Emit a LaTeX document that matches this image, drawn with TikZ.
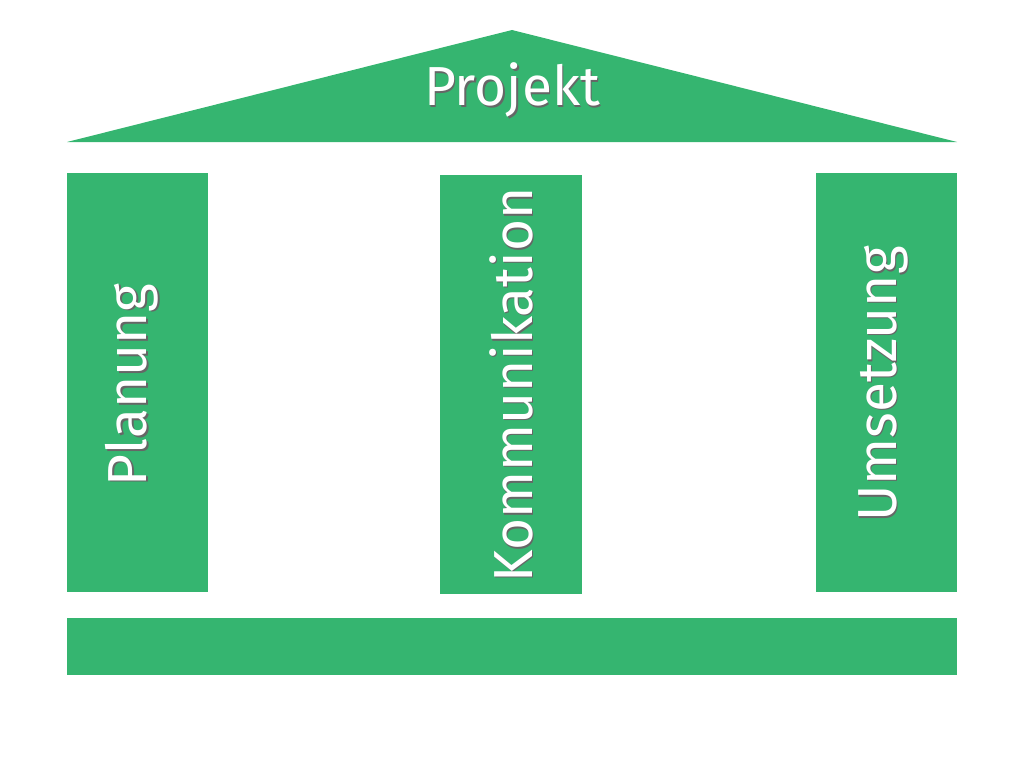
\documentclass[tikz,border=0pt]{standalone}
\usepackage{fontspec}
\setmainfont{Fira Sans}
\definecolor{tgreen}{HTML}{35B570}
\begin{document}
\begin{tikzpicture}[x=1pt,y=-1pt,
  part/.style={fill=tgreen,draw=none},
  lbl/.style={text=white,font=\fontsize{55}{66}\selectfont,inner sep=0pt},
  shd/.style={text=black!60,font=\fontsize{55}{66}\selectfont,inner sep=0pt}]
\useasboundingbox (0,0) rectangle (1024,768);
\fill[part] (67,142) -- (512,30) -- (957,142) -- cycle;
\fill[part] (67,173) rectangle (208,592);
\fill[part] (440,175) rectangle (582,594);
\fill[part] (816,173) rectangle (957,592);
\fill[part] (67,618) rectangle (957,675);
\node[shd] at (513.5,91.5) {Projekt};
\node[lbl] (p) at (512,90) {Projekt};
\node[shd,rotate=90] at (133.5,386.5) {Planung};
\node[lbl,rotate=90] (a) at (132,385) {Planung};
\node[shd,rotate=90] at (512.5,386.5) {Kommunikation};
\node[lbl,rotate=90] (b) at (511,385) {Kommunikation};
\node[shd,rotate=90] at (884.5,385.5) {Umsetzung};
\node[lbl,rotate=90] (c) at (883,384) {Umsetzung};
\end{tikzpicture}
\end{document}
